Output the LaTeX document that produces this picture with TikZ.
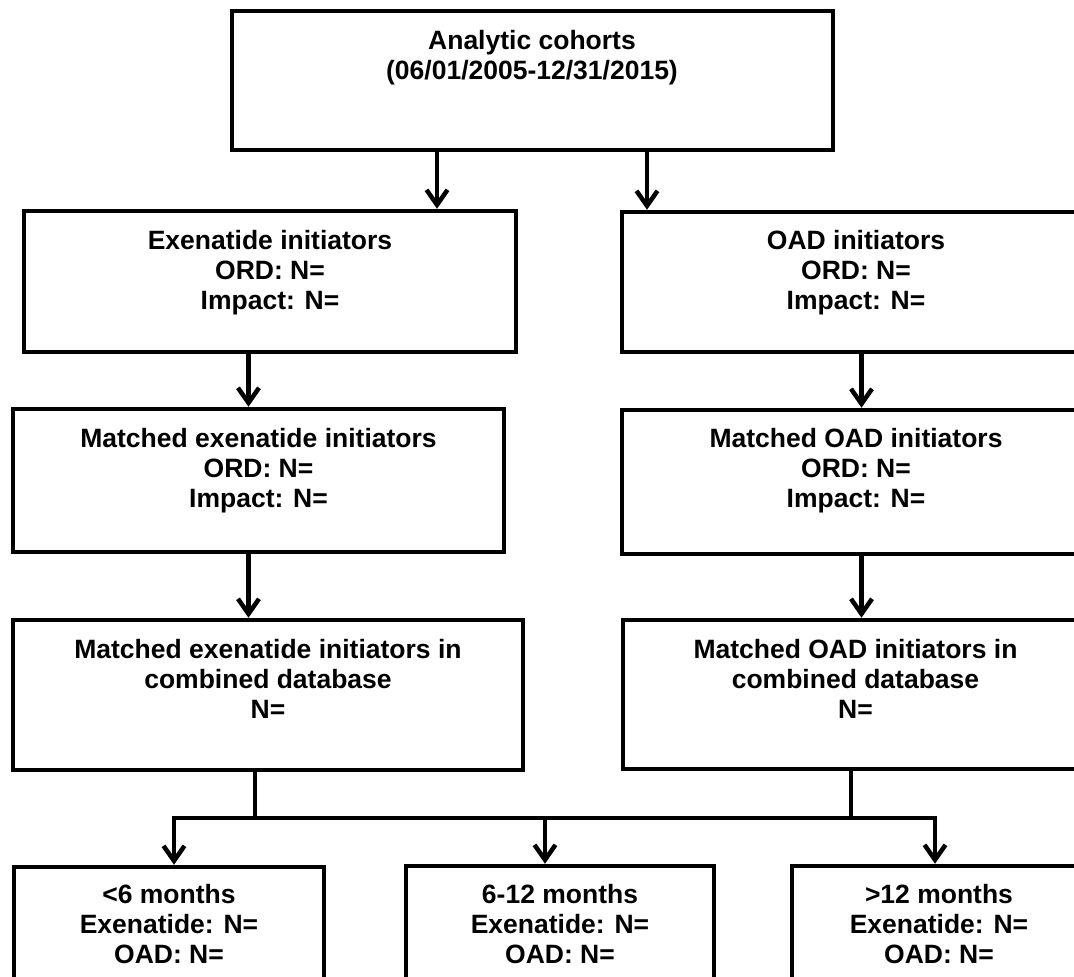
\documentclass[tikz,border=0pt]{standalone}
\usepackage{fontspec}
\setmainfont{Liberation Sans}
\usetikzlibrary{arrows.meta}
\tikzset{
  ln/.style={line width=4.5pt, black},
  box/.style={draw, ln, rectangle, inner sep=0pt, fill=none},
  txt/.style={anchor=base, inner sep=0pt, font=\fontsize{26.5}{30}\selectfont\bfseries},
  arr/.style={ln, -{Straight Barb[length=15pt,width=21pt]}},
}
\newcommand{\lines}[1]{\begin{tabular}[t]{@{}c@{}}#1\end{tabular}}
\begin{document}
\begin{tikzpicture}[x=1pt,y=-1pt]
\useasboundingbox (0,0) rectangle (1074,977);
\clip (0,0) rectangle (1074,977);
\fill[white] (0,0) rectangle (1074,977);

% boxes
\node[box, minimum width=601pt, minimum height=139pt] (T)  at (532.5,80.5) {};
\node[box, minimum width=492pt, minimum height=141pt] (E1) at (270,281.5) {};
\node[box, minimum width=491pt, minimum height=143pt] (E2) at (258.5,480.5) {};
\node[box, minimum width=510pt, minimum height=150pt] (E3) at (268,695) {};
\node[box, minimum width=468pt, minimum height=140pt] (O1) at (856,282) {};
\node[box, minimum width=468pt, minimum height=144pt] (O2) at (856,482) {};
\node[box, minimum width=465pt, minimum height=149pt] (O3) at (855.5,694.5) {};
\node[box, minimum width=310pt, minimum height=134pt] (B1) at (169,934) {};
\node[box, minimum width=308pt, minimum height=134pt] (B2) at (560,933) {};
\node[box, minimum width=294pt, minimum height=134pt] (B3) at (939,933) {};

% texts
\node[txt] (tT)  at (532,49.5)  {\lines{Analytic cohorts\\(06/01/2005-12/31/2015)}};
\node[txt] (tE1) at (270,249.5) {\lines{Exenatide initiators\\ORD: N=\\Impact: N=}};
\node[txt] (tE2) at (258.5,447) {\lines{Matched exenatide initiators\\ORD: N=\\Impact: N=}};
\node[txt] (tE3) at (268,658)   {\lines{Matched exenatide initiators in\\combined database\\N=}};
\node[txt] (tO1) at (856,249.5) {\lines{OAD initiators\\ORD: N=\\Impact: N=}};
\node[txt] (tO2) at (856,447.5) {\lines{Matched OAD initiators\\ORD: N=\\Impact: N=}};
\node[txt] (tO3) at (855.5,658) {\lines{Matched OAD initiators in\\combined database\\N=}};
\node[txt] (tB1) at (169,903.5) {\lines{<6 months\\Exenatide: N=\\OAD: N=}};
\node[txt] (tB2) at (560,903.5) {\lines{6-12 months\\Exenatide: N=\\OAD: N=}};
\node[txt] (tB3) at (939,903.5) {\lines{>12 months\\Exenatide: N=\\OAD: N=}};

% connector x positions
\coordinate (xa) at (437,0);
\coordinate (xb) at (647,0);
\coordinate (xc) at (248.5,0);
\coordinate (xd) at (861.5,0);
\coordinate (xe) at (255,0);
\coordinate (xf) at (851,0);
\coordinate (d1) at (174,0);
\coordinate (d2) at (545,0);
\coordinate (d3) at (935,0);
\coordinate (bus) at (0,818);

% connectors
\draw[arr] (T.south -| xa) -- (E1.north -| xa);
\draw[arr] (T.south -| xb) -- (O1.north -| xb);
\draw[arr] (E1.south -| xc) -- (E2.north -| xc);
\draw[arr] (E2.south -| xc) -- (E3.north -| xc);
\draw[arr] (O1.south -| xd) -- (O2.north -| xd);
\draw[arr] (O2.south -| xd) -- (O3.north -| xd);
\draw[ln] (E3.south -| xe) -- (xe |- bus);
\draw[ln] (O3.south -| xf) -- (xf |- bus);
\draw[arr] (d2 |- bus) -| (B1.north -| d1);
\draw[arr] (d2 |- bus) -| (B3.north -| d3);
\draw[arr] (d2 |- bus) -- (B2.north -| d2);
\end{tikzpicture}
\end{document}
